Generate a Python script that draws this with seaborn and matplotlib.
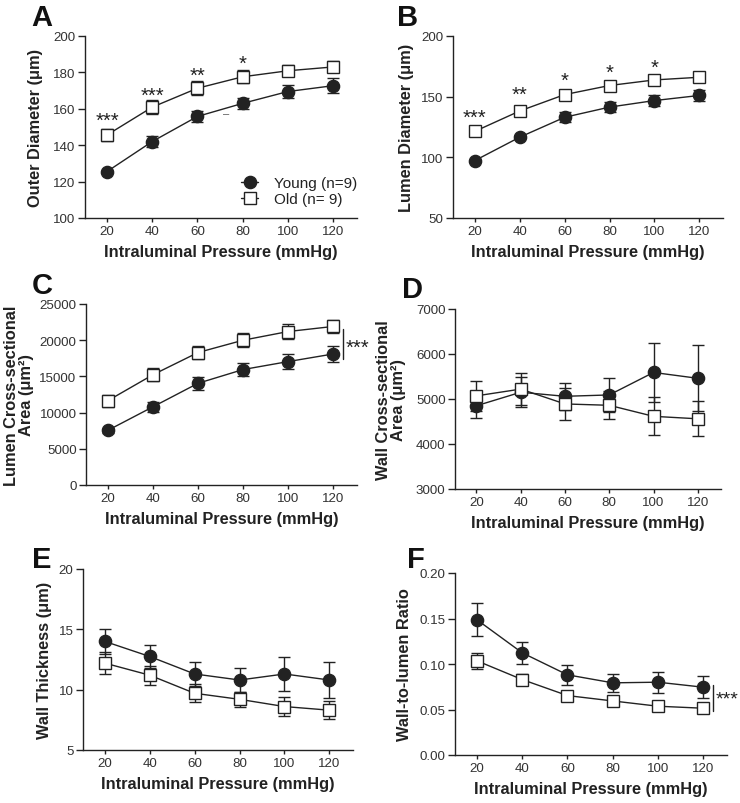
import numpy as np
import pandas as pd
import matplotlib
matplotlib.use("Agg")
import matplotlib.pyplot as plt
import seaborn as sns

sns.set_theme(style="ticks")
plt.rcParams['font.family'] = ['Liberation Sans', 'DejaVu Sans']

pressure = [20, 40, 60, 80, 100, 120]
groups = ["Young (n=9)", "Old (n= 9)"]

# A: Outer diameter
od_young = [125.5, 142.0, 155.8, 163.0, 169.5, 172.7]
od_young_err = [1.0, 2.8, 3.0, 3.0, 3.6, 4.0]
od_old = [145.6, 160.9, 171.3, 177.6, 180.9, 183.0]
od_old_err = [3.5, 3.7, 3.8, 3.6, 3.0, 3.0]

# B: Lumen diameter
ld_young = [97.3, 116.6, 133.0, 141.4, 146.8, 151.0]
ld_young_err = [1.0, 1.5, 4.0, 4.0, 4.2, 4.5]
ld_old = [121.4, 138.2, 151.7, 159.2, 163.8, 166.0]
ld_old_err = [2.5, 2.5, 2.0, 2.0, 2.0, 2.0]

# C: Lumen cross-sectional area
lca_young = [7550, 10800, 14050, 15950, 17050, 18100]
lca_young_err = [300, 690, 920, 880, 990, 1060]
lca_old = [11650, 15230, 18300, 20000, 21200, 21900]
lca_old_err = [850, 920, 920, 990, 990, 950]

# D: Wall cross-sectional area
wca_young = [4850, 5150, 5060, 5090, 5590, 5460]
wca_young_err = [270, 330, 300, 380, 650, 730]
wca_old = [5070, 5220, 4890, 4860, 4615, 4560]
wca_old_err = [340, 350, 350, 310, 420, 390]

# E: Wall thickness
wt_young = [14.0, 12.75, 11.3, 10.8, 11.3, 10.8]
wt_young_err = [1.02, 0.97, 0.97, 1.0, 1.38, 1.52]
wt_old = [12.2, 11.2, 9.7, 9.2, 8.6, 8.3]
wt_old_err = [0.9, 0.8, 0.73, 0.6, 0.76, 0.76]

# F: Wall-to-lumen ratio
wl_young = [0.1486, 0.1123, 0.0881, 0.0793, 0.0800, 0.0745]
wl_young_err = [0.0183, 0.0123, 0.011, 0.010, 0.0117, 0.0119]
wl_old = [0.1035, 0.0829, 0.0653, 0.0594, 0.0536, 0.0514]
wl_old_err = [0.0086, 0.0064, 0.004, 0.003, 0.003, 0.003]

W, H = 740, 804
fig = plt.figure(figsize=(W / 100, H / 100), dpi=100)

LC = "#222222"
TC = "#333333"


def panel(box, y_young, e_young, y_old, e_old, ylim, yticks, ylabel, label_x,
          letter, letter_xy, yfmt=None):
    l, r, t, b = box
    ax = fig.add_axes([l / W, 1 - b / H, (r - l) / W, (b - t) / H])
    df = pd.DataFrame({
        "Pressure": pressure * 2,
        "Value": list(y_young) + list(y_old),
        "Group": [groups[0]] * 6 + [groups[1]] * 6,
    })
    ax.errorbar(pressure, y_young, yerr=e_young, fmt="none", ecolor=LC, elinewidth=1.0,
                capsize=4.3, capthick=1.0, zorder=2)
    ax.errorbar(pressure, y_old, yerr=e_old, fmt="none", ecolor=LC, elinewidth=1.0,
                capsize=4.3, capthick=1.0, zorder=2)
    sns.lineplot(data=df[df.Group == groups[0]], x="Pressure", y="Value", ax=ax,
                 color=LC, lw=1.0, marker="o", markersize=8.8, markerfacecolor=LC,
                 markeredgecolor=LC, markeredgewidth=1.0, label=groups[0], zorder=3)
    sns.lineplot(data=df[df.Group == groups[1]], x="Pressure", y="Value", ax=ax,
                 color=LC, lw=1.0, marker="s", markersize=9.2, markerfacecolor="white",
                 markeredgecolor=LC, markeredgewidth=1.0, label=groups[1], zorder=4)
    ax.set_xlim(10.3, 130.5)
    ax.set_ylim(*ylim)
    ax.set_xticks(pressure)
    ax.set_yticks(yticks)
    if yfmt:
        ax.set_yticklabels([yfmt.format(v) for v in yticks])
    sns.despine(ax=ax)
    for s in ["left", "bottom"]:
        ax.spines[s].set_color(LC)
        ax.spines[s].set_linewidth(1.0)
    ax.tick_params(axis="both", direction="out", width=1.0, color=LC,
                   labelsize=9.6, labelcolor=TC)
    ax.tick_params(axis="y", length=4.8, pad=2.0)
    ax.tick_params(axis="x", length=3.2, pad=1.8)
    ax.set_xlabel("Intraluminal Pressure (mmHg)", fontsize=11.8, fontweight="bold",
                  color=LC, labelpad=5)
    ax.set_ylabel(ylabel, fontsize=11.8, fontweight="bold", color=LC,
                  linespacing=1.05, va="center", ha="center")
    ax.yaxis.set_label_coords((label_x - l) / (r - l), 0.5)
    ax.get_legend().remove()
    fig.text(letter_xy[0] / W, 1 - letter_xy[1] / H, letter, fontsize=21,
             fontweight="bold", color="#111111", ha="left", va="top")
    return ax


STAR = 14.5

# A
axA = panel((85, 357, 37, 219), od_young, od_young_err, od_old, od_old_err, (100, 200),
            [100, 120, 140, 160, 180, 200], "Outer Diameter (μm)", 36, "A", (31, 4))
for x, y, s in zip([20, 40, 60, 80], [150.8, 164.6, 175.6, 182.2], ["***", "***", "**", "*"]):
    axA.text(x, y, s, fontsize=STAR, ha="center", va="baseline", color=LC)
axA.text(72.5, 157.5, "–", fontsize=8, ha="center", va="center", color="#555555")
axA.legend(loc="lower right", bbox_to_anchor=(1.0, 0.065), frameon=False, fontsize=11,
           handlelength=1.15, handletextpad=1.0, labelspacing=0.15, borderpad=0,
           borderaxespad=0, labelcolor=LC)

# B
axB = panel((453, 723, 37, 219), ld_young, ld_young_err, ld_old, ld_old_err, (50, 200),
            [50, 100, 150, 200], "Lumen Diameter (μm)", 407, "B", (397, 4))
for x, y, s in zip([20, 40, 60, 80, 100], [128.8, 147.3, 158.8, 165.8, 169.3],
                   ["***", "**", "*", "*", "*"]):
    axB.text(x, y, s, fontsize=STAR, ha="center", va="baseline", color=LC)

# C
axC = panel((86, 357, 305, 486), lca_young, lca_young_err, lca_old, lca_old_err, (0, 25000),
            [0, 5000, 10000, 15000, 20000, 25000],
            "Lumen Cross-sectional\nArea (μm²)", 19, "C", (32, 272))
axC.plot([124.5, 124.5], [17400, 21600], color=LC, lw=1.0, clip_on=False)
axC.text(125.6, 18300, "***", fontsize=STAR, ha="left", va="baseline", color=LC, clip_on=False)

# D
axD = panel((455, 721, 310, 490), wca_young, wca_young_err, wca_old, wca_old_err,
            (3000, 7000), [3000, 4000, 5000, 6000, 7000],
            "Wall Cross-sectional\nArea (μm²)", 391, "D", (402, 276))

# E
axE = panel((83, 353, 570, 751), wt_young, wt_young_err, wt_old, wt_old_err, (5, 20),
            [5, 10, 15, 20], "Wall Thickness (μm)", 44, "E", (32, 546))

# F
axF = panel((455, 727, 574, 756), wl_young, wl_young_err, wl_old, wl_old_err, (0, 0.20),
            [0.0, 0.05, 0.10, 0.15, 0.20], "Wall-to-lumen Ratio", 404, "F", (407, 546),
            yfmt="{:.2f}")
axF.plot([124.4, 124.4], [0.0488, 0.0774], color=LC, lw=1.0, clip_on=False)
axF.text(125.4, 0.0565, "***", fontsize=STAR - 0.5, ha="left", va="baseline", color=LC,
         clip_on=False)

fig.savefig("out.png", dpi=100, facecolor="white")
